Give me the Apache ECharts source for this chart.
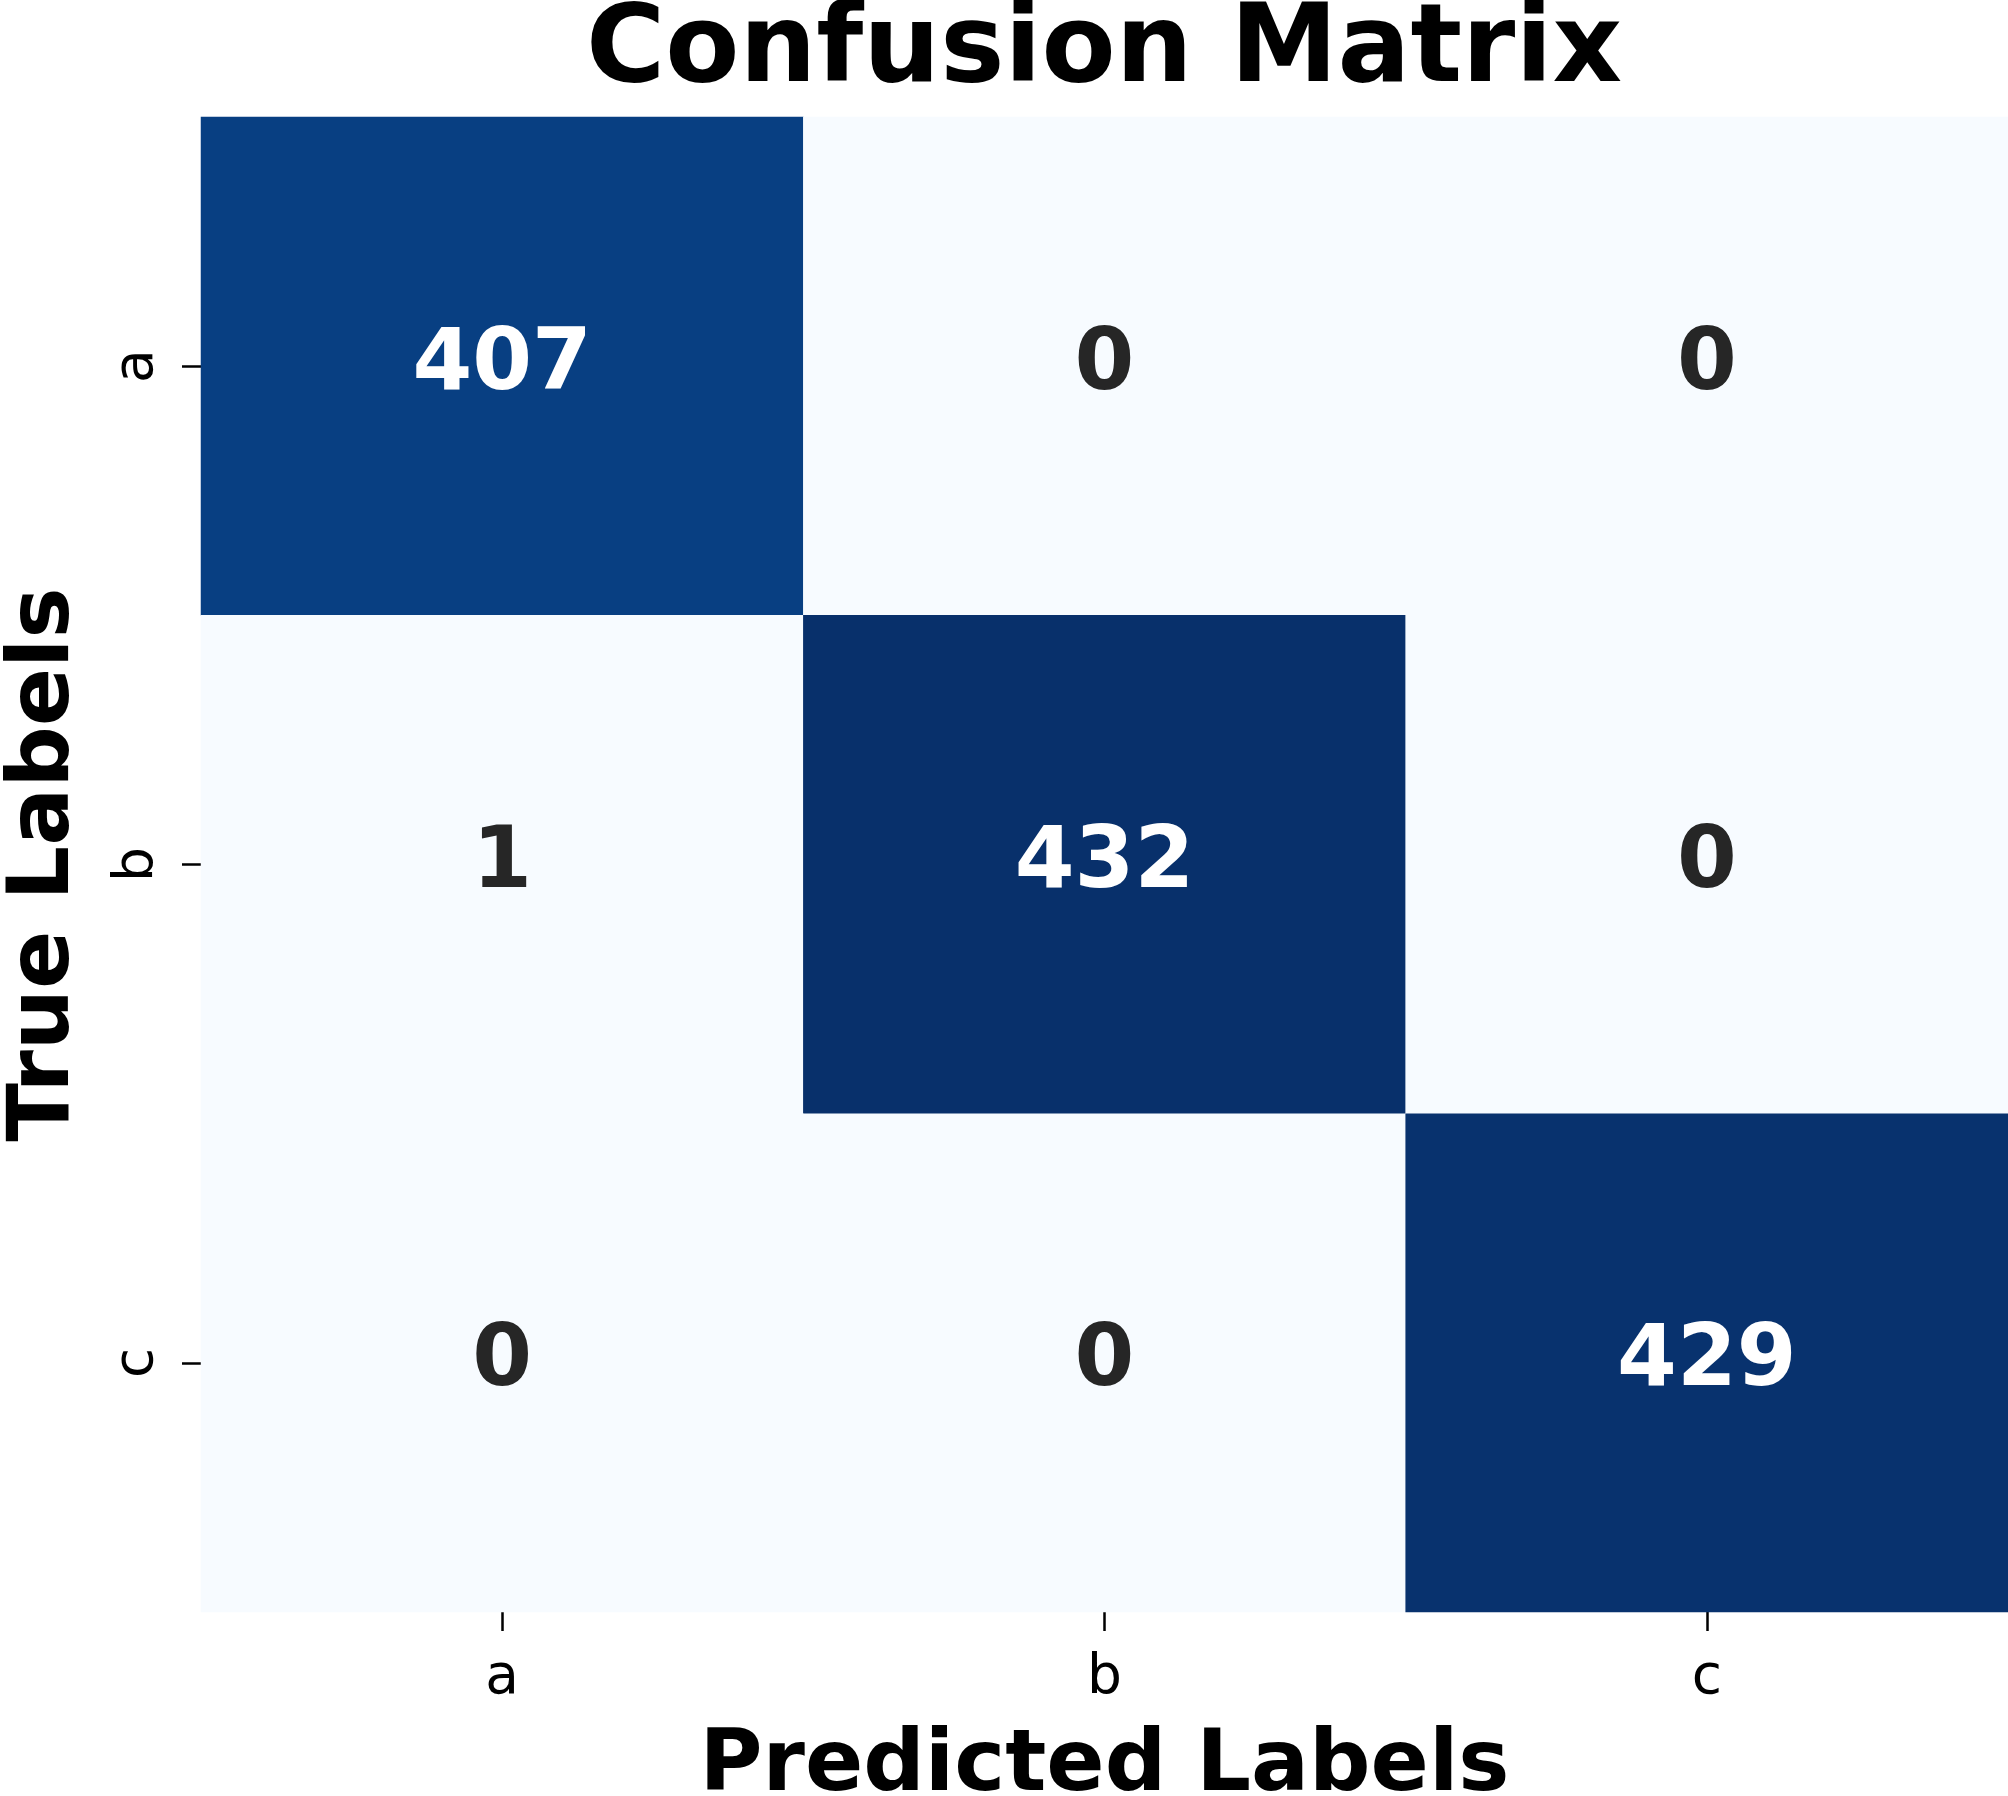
<!DOCTYPE html>
<html>
<head>
<meta charset="utf-8">
<script src="https://cdn.jsdelivr.net/npm/echarts@6/dist/echarts.min.js"></script>
<style>html,body{margin:0;padding:0;background:#fff}#c{width:2008px;height:1796px}</style>
</head>
<body>
<div id="c"></div>
<script>
const predictedLabels = ['a', 'b', 'c'];
const trueLabels = ['a', 'b', 'c'];
const rowA = [407, 0, 0];
const rowB = [1, 432, 0];
const rowC = [0, 0, 429];
const matrix = [rowA, rowB, rowC];
const blues = ['#f7fbff','#deebf7','#c6dbef','#9ecae1','#6baed6','#4292c6','#2171b5','#08519c','#08306b'];

let vmax = 0;
matrix.forEach(r => r.forEach(v => { if (v > vmax) vmax = v; }));
const data = [];
matrix.forEach((row, yi) => row.forEach((v, xi) => {
  data.push({ value: [xi, yi, v], label: { color: v > vmax / 2 ? '#ffffff' : '#262626' } });
}));

const FONT = 'DejaVu Sans';
const chart = echarts.init(document.getElementById('c'), null, { renderer: 'canvas' });
chart.setOption({
  animation: false,
  backgroundColor: '#ffffff',
  title: {
    text: 'Confusion Matrix',
    left: 1104, top: -1, padding: 0, textAlign: 'center',
    textStyle: { fontFamily: FONT, fontWeight: 'bold', fontSize: 108, color: '#000' }
  },
  grid: { left: 201, top: 117, right: 0, bottom: 184, containLabel: false, outerBoundsMode: 'none' },
  xAxis: {
    type: 'category', data: predictedLabels,
    name: 'Predicted Labels', nameLocation: 'middle', nameGap: 113,
    nameTextStyle: { fontFamily: FONT, fontWeight: 'bold', fontSize: 86, color: '#000' },
    axisLine: { show: false },
    axisTick: { show: true, alignWithLabel: true, length: 19, lineStyle: { color: '#000', width: 2.5 } },
    axisLabel: { fontFamily: FONT, fontSize: 55, color: '#000', margin: 39 },
    splitLine: { show: false }, splitArea: { show: false }
  },
  yAxis: {
    type: 'category', data: trueLabels, inverse: true,
    name: 'True Labels', nameLocation: 'middle', nameGap: 112,
    nameTextStyle: { fontFamily: FONT, fontWeight: 'bold', fontSize: 86, color: '#000' },
    axisLine: { show: false },
    axisTick: { show: true, alignWithLabel: true, length: 19, lineStyle: { color: '#000', width: 2.5 } },
    axisLabel: { fontFamily: FONT, fontSize: 55, color: '#000', margin: 36, rotate: 90 },
    splitLine: { show: false }, splitArea: { show: false }
  },
  visualMap: {
    type: 'continuous', show: false, min: 0, max: vmax, dimension: 2,
    inRange: { color: blues }
  },
  series: [{
    type: 'heatmap',
    data: data,
    itemStyle: { borderWidth: 0 },
    label: { show: true, fontFamily: FONT, fontWeight: 'bold', fontSize: 86,
      formatter: p => String(p.value[2]) },
    emphasis: { disabled: true }
  }]
});
</script>
</body>
</html>
